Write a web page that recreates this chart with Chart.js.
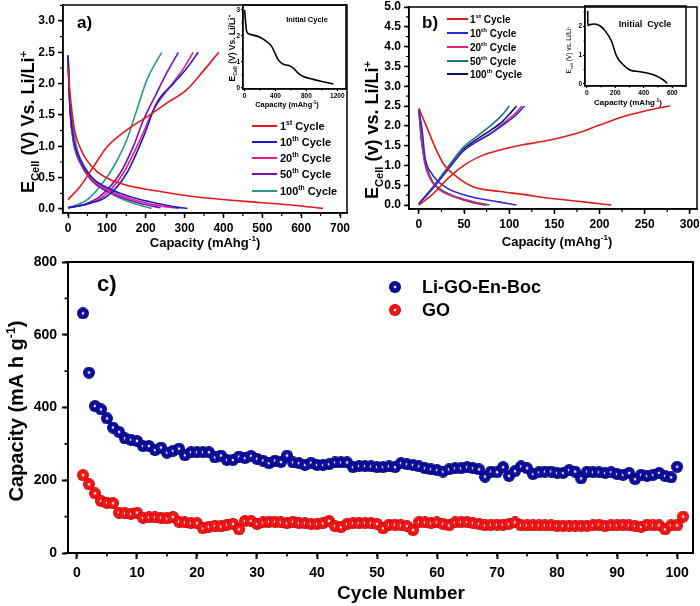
<!DOCTYPE html>
<html>
<head>
<meta charset="utf-8">
<script src="https://cdn.jsdelivr.net/npm/chart.js@4.4.1/dist/chart.umd.min.js"></script>
<style>
  body { margin: 0; background: #fff; }
  #wrap { position: relative; width: 700px; height: 606px; overflow: hidden; background: #fff; }
  canvas { position: absolute; }
</style>
</head>
<body>
<div id="wrap">
  <canvas id="chartA"></canvas>
  <canvas id="chartB"></canvas>
  <canvas id="chartC"></canvas>
  <canvas id="insetA"></canvas>
  <canvas id="insetB"></canvas>
</div>
<script>
// ---- legend names ----
const cycleNames = ["1", "10", "20", "50", "100"];
const cycleSuffix = ["st", "th", "th", "th", "th"];
const seriesNames = ["Li-GO-En-Boc", "GO"];

// ---- tick labels ----
const aCapTicks = [0, 100, 200, 300, 400, 500, 600, 700];
const aVoltTicks = [0, 0.5, 1.0, 1.5, 2.0, 2.5, 3.0];
const bCapTicks = [0, 50, 100, 150, 200, 250, 300];
const bVoltTicks = [0, 0.5, 1.0, 1.5, 2.0, 2.5, 3.0, 3.5, 4.0, 4.5, 5.0];
const cCycleTicks = [0, 10, 20, 30, 40, 50, 60, 70, 80, 90, 100];
const cCapTicks = [0, 200, 400, 600, 800];
const insetACapTicks = [0, 400, 800, 1200];
const insetAVoltTicks = [0, 1, 2, 3];
const insetBCapTicks = [0, 200, 400, 600];
const insetBVoltTicks = [0, 1, 2];

// ---- panel a) charge / discharge, [capacity mAh/g, E V] ----
const aDischarge1 = [[0, 2.25], [5, 1.85], [10, 1.55], [18, 1.22], [31, 0.98], [48, 0.78], [74, 0.6], [108, 0.47], [151, 0.38], [237, 0.28], [322, 0.2], [420, 0.14], [500, 0.1], [580, 0.06], [656, 0.01]];
const aCharge1 = [[0, 0.15], [31, 0.36], [65, 0.67], [100, 0.99], [151, 1.26], [203, 1.47], [254, 1.69], [305, 1.9], [348, 2.2], [388, 2.5]];
const aDischarge10 = [[0, 2.45], [3, 1.9], [6, 1.55], [14, 1.12], [30, 0.8], [57, 0.53], [91, 0.37], [134, 0.25], [185, 0.15], [237, 0.08], [280, 0.03], [307, 0.01]];
const aCharge10 = [[0, 0.02], [50, 0.08], [100, 0.2], [151, 0.57], [194, 1.15], [228, 1.69], [271, 2.0], [305, 2.24], [335, 2.5]];
const aDischarge20 = [[0, 2.45], [3, 1.9], [6, 1.5], [14, 1.08], [30, 0.77], [57, 0.5], [91, 0.34], [134, 0.22], [185, 0.12], [237, 0.05], [284, 0.01]];
const aCharge20 = [[0, 0.02], [50, 0.08], [91, 0.2], [142, 0.57], [185, 1.1], [220, 1.58], [262, 1.95], [297, 2.24], [322, 2.5]];
const aDischarge50 = [[0, 2.45], [3, 1.9], [6, 1.5], [14, 1.06], [30, 0.75], [57, 0.48], [91, 0.31], [134, 0.19], [185, 0.09], [238, 0.02]];
const aCharge50 = [[0, 0.02], [45, 0.08], [82, 0.2], [134, 0.57], [168, 1.0], [194, 1.42], [228, 1.85], [254, 2.17], [284, 2.5]];
const aDischarge100 = [[0, 2.45], [3, 1.85], [9.5, 1.47], [22, 0.99], [48, 0.62], [82, 0.38], [125, 0.2], [168, 0.09], [215, 0.01]];
const aCharge100 = [[0, 0.02], [48, 0.14], [82, 0.36], [117, 0.67], [151, 1.1], [177, 1.58], [203, 2.06], [241, 2.5]];
const aInitial = [[0, 3.0], [28, 2.17], [71, 2.06], [200, 1.95], [287, 1.78], [352, 1.59], [395, 1.33], [437, 1.08], [502, 0.91], [567, 0.87], [631, 0.76], [696, 0.56], [761, 0.44], [890, 0.33], [1019, 0.24], [1149, 0.15]];

// ---- panel b) ----
const bDischarge1 = [[0, 2.44], [8.5, 1.98], [16, 1.56], [27, 1.05], [42, 0.71], [60, 0.46], [90, 0.34], [115, 0.27], [145, 0.17], [182, 0.08], [213, 0.0]];
const bCharge1 = [[0, 0.0], [16, 0.29], [34, 0.71], [53, 1.05], [71, 1.26], [90, 1.39], [115, 1.52], [145, 1.64], [175, 1.81], [200, 2.02], [226, 2.23], [255, 2.4], [278, 2.5]];
const bDischarge10 = [[0, 2.42], [4, 1.8], [6.6, 1.22], [14, 0.8], [29, 0.46], [58, 0.21], [88, 0.08], [108, 0.0]];
const bCharge10 = [[0, 0.03], [16, 0.44], [34, 0.95], [49, 1.36], [64, 1.6], [79, 1.8], [93, 2.02], [107, 2.26], [117, 2.5]];
const bDischarge20 = [[0, 2.42], [3, 1.7], [6, 1.1], [12, 0.68], [22, 0.4], [40, 0.21], [58, 0.09], [75, 0.0]];
const bCharge20 = [[0, 0.03], [16, 0.45], [34, 0.96], [49, 1.37], [64, 1.6], [79, 1.8], [93, 2.05], [107, 2.32], [114, 2.5]];
const bDischarge50 = [[0, 2.42], [3, 1.6], [8, 1.0], [15, 0.6], [25, 0.38], [42, 0.2], [60, 0.08], [78, 0.0]];
const bCharge50 = [[0, 0.03], [16, 0.47], [34, 1.02], [49, 1.45], [64, 1.73], [79, 2.0], [92, 2.27], [100, 2.5]];
const bDischarge100 = [[0, 2.38], [3, 1.6], [8, 1.0], [14, 0.62], [24, 0.38], [40, 0.2], [57, 0.08], [73, 0.0]];
const bCharge100 = [[0, 0.03], [16, 0.46], [34, 0.98], [49, 1.4], [64, 1.66], [79, 1.88], [93, 2.12], [102, 2.34], [108, 2.5]];
const bInitial = [[7, 2.55], [8, 2.04], [21, 2.07], [56, 2.09], [92, 2.03], [127, 1.87], [174, 1.49], [210, 0.96], [256, 0.67], [303, 0.49], [374, 0.43], [468, 0.32], [538, 0.14], [565, 0.02]];

// ---- panel c) capacity (mA h/g) per cycle, starting at cycle 1 ----
const boCapacity = [659, 496, 404, 395, 370, 345, 333, 315, 311, 308, 294, 294, 283, 290, 276, 281, 287, 269, 277, 277,
  277, 277, 263, 268, 256, 256, 265, 261, 267, 259, 254, 247, 254, 250, 268, 249, 247, 242, 248, 242,
  242, 244, 249, 249, 249, 236, 239, 239, 238, 236, 236, 238, 236, 247, 244, 242, 238, 233, 230, 228,
  224, 230, 233, 233, 236, 233, 230, 210, 224, 222, 236, 212, 225, 238, 233, 217, 222, 224, 224, 220,
  220, 228, 224, 205, 224, 222, 222, 220, 222, 217, 215, 220, 203, 215, 212, 215, 220, 212, 208, 237];
const goCapacity = [214, 189, 164, 143, 138, 137, 111, 109, 108, 111, 97, 98, 98, 97, 95, 99, 86, 84, 82, 82,
  68, 72, 75, 73, 78, 80, 65, 88, 88, 80, 84, 86, 86, 84, 82, 86, 82, 82, 80, 80,
  82, 88, 74, 71, 80, 82, 82, 82, 82, 80, 68, 78, 78, 76, 74, 63, 85, 84, 82, 84,
  80, 76, 84, 85, 85, 82, 80, 76, 78, 78, 78, 80, 84, 76, 76, 76, 76, 76, 76, 75,
  75, 75, 75, 75, 75, 76, 78, 74, 76, 76, 78, 76, 74, 72, 78, 76, 76, 65, 76, 76, 100];

const aColors = ["#e8161c", "#1c1cc8", "#e81c8c", "#7a10b4", "#2a9a88"];
const bColors = ["#e01b1b", "#2a2ad6", "#e8207a", "#15806a", "#0c0c78"];

const FAM = '"Liberation Sans", Arial, Helvetica, sans-serif';
Chart.defaults.font.family = FAM;
Chart.defaults.color = "#000";

const T = t => ({ t: t });
const SUB = t => ({ t: t, sub: true });
const SUP = t => ({ t: t, sup: true });

// text with sub/superscripts, centred on (x, y) unless align left
function drawRich(ctx, parts, x, y, size, opt) {
  const weight = opt.weight || "bold";
  const fontOf = p => weight + " " + ((p.sub || p.sup) ? size * 0.62 : size) + "px " + FAM;
  ctx.save();
  ctx.translate(x, y);
  if (opt.rotate) ctx.rotate(-Math.PI / 2);
  ctx.textAlign = "left";
  ctx.textBaseline = "alphabetic";
  ctx.fillStyle = "#000";
  const widths = parts.map(p => { ctx.font = fontOf(p); return ctx.measureText(p.t).width; });
  const total = widths.reduce((s, w) => s + w, 0);
  let cx = opt.align === "left" ? 0 : -total / 2;
  const base = size * 0.36;
  parts.forEach((p, i) => {
    ctx.font = fontOf(p);
    let dy = 0;
    if (p.sub) dy = size * 0.26;
    if (p.sup) dy = -size * 0.42;
    ctx.fillText(p.t, cx, base + dy);
    cx += widths[i];
  });
  ctx.restore();
}

// frame, minor ticks, titles and hand-made legends
function framePlugin(cfg) {
  return {
    id: "frame",
    afterDraw(chart) {
      const ctx = chart.ctx, a = chart.chartArea;
      const xs = chart.scales.x, ys = chart.scales.y;
      const ox = cfg.box.x, oy = cfg.box.y;
      ctx.save();
      ctx.strokeStyle = "#000";
      ctx.lineWidth = cfg.tickWidth || 1.2;
      ctx.beginPath();
      for (let v = Math.ceil(xs.min / cfg.minorX) * cfg.minorX; v <= xs.max + 1e-9; v += cfg.minorX) {
        const px = xs.getPixelForValue(v);
        ctx.moveTo(px, a.bottom);
        ctx.lineTo(px, a.bottom + cfg.minorLen);
      }
      for (let v = Math.ceil(ys.min / cfg.minorY) * cfg.minorY; v <= ys.max + 1e-9; v += cfg.minorY) {
        const py = ys.getPixelForValue(v);
        ctx.moveTo(a.left, py);
        ctx.lineTo(a.left - cfg.minorLen, py);
      }
      ctx.stroke();
      ctx.lineWidth = cfg.frameWidth || 1.5;
      ctx.strokeRect(a.left, a.top, a.right - a.left, a.bottom - a.top);
      (cfg.lines || []).forEach(l => {
        ctx.strokeStyle = l.color;
        ctx.lineWidth = 2;
        ctx.beginPath();
        ctx.moveTo(l.x1 - ox, l.y - oy);
        ctx.lineTo(l.x2 - ox, l.y - oy);
        ctx.stroke();
      });
      (cfg.images || []).forEach(im => {
        ctx.drawImage(im.img, im.x - ox - im.img.width / 2, im.y - oy - im.img.height / 2);
      });
      (cfg.texts || []).forEach(t => drawRich(ctx, t.parts, t.x - ox, t.y - oy, t.size, t));
      ctx.restore();
    }
  };
}

function linAxis(min, max, tickValues, size, tickLen, pad, lw, fmt) {
  return {
    type: "linear", min: min, max: max,
    afterBuildTicks: s => { s.ticks = tickValues.map(v => ({ value: v })); },
    grid: { drawOnChartArea: false, drawTicks: true, tickLength: tickLen, tickWidth: lw, tickColor: "#000" },
    border: { display: true, color: "#000", width: lw },
    ticks: {
      autoSkip: false, maxRotation: 0, minRotation: 0,
      padding: pad, color: "#000", font: { size: size, weight: "bold" },
      callback: fmt || (v => v)
    }
  };
}

// place a chart so that its plot area lands on `area` (page pixels)
function makePanel(id, box, area, datasets, xAxis, yAxis, cfg) {
  const cv = document.getElementById(id);
  cv.width = box.w;
  cv.height = box.h;
  cv.style.left = box.x + "px";
  cv.style.top = box.y + "px";
  cv.style.width = box.w + "px";
  cv.style.height = box.h + "px";
  const yW = area.left - box.x;
  const xH = box.y + box.h - area.bottom;
  const zeroPad = s => { s.paddingLeft = 0; s.paddingRight = 0; s.paddingTop = 0; s.paddingBottom = 0; };
  xAxis.afterFit = s => { s.height = xH; zeroPad(s); };
  yAxis.afterFit = s => { s.width = yW; zeroPad(s); };
  cfg.box = box;
  return new Chart(cv, {
    type: "scatter",
    data: { datasets: datasets },
    options: {
      responsive: false,
      animation: false,
      events: [],
      layout: { padding: { left: 0, bottom: 0, top: area.top - box.y, right: box.x + box.w - area.right } },
      scales: { x: xAxis, y: yAxis },
      plugins: { legend: { display: false }, tooltip: { enabled: false } }
    },
    plugins: [framePlugin(cfg)]
  });
}

function curve(data, color, width) {
  return {
    data: data, showLine: true, borderColor: color, borderWidth: width || 1.6,
    pointRadius: 0, cubicInterpolationMode: "monotone", fill: false
  };
}

// shaded ball used as point marker
function ball(base, dark) {
  const size = 12, r = size / 2;
  const c = document.createElement("canvas");
  c.width = size; c.height = size;
  const g = c.getContext("2d");
  const grad = g.createRadialGradient(r, r, 0, r, r, r);
  grad.addColorStop(0, "#ffffff");
  grad.addColorStop(0.12, "#e4e4f0");
  grad.addColorStop(0.3, base);
  grad.addColorStop(0.8, base);
  grad.addColorStop(1, dark);
  g.fillStyle = grad;
  g.beginPath();
  g.arc(r, r, r, 0, Math.PI * 2);
  g.fill();
  return c;
}

const eTitle = (cell, v, vs) => [T("E"), SUB(cell), T(" (" + v + ") " + vs + " Li/Li"), SUP("+")];
const capTitle = [T("Capacity (mAhg"), SUP("-1"), T(")")];
const cycleLabel = i => [T(cycleNames[i]), SUP(cycleSuffix[i]), T(" Cycle")];
const fmt1 = v => v.toFixed(1);

// ---------- panel a ----------
const aSets = [[aDischarge1, aCharge1], [aDischarge10, aCharge10], [aDischarge20, aCharge20], [aDischarge50, aCharge50], [aDischarge100, aCharge100]];
const aDatasets = [];
aSets.forEach((pair, i) => { aDatasets.push(curve(pair[0], aColors[i])); aDatasets.push(curve(pair[1], aColors[i])); });
const aLegendY = [126, 142, 158, 174, 191];

makePanel("chartA", { x: 0, y: 0, w: 350, h: 252 }, { left: 63, top: 5, right: 347, bottom: 213 },
  aDatasets,
  linAxis(-13, 718, aCapTicks, 12, 5, 3, 1.5),
  linAxis(-0.064, 3.255, aVoltTicks, 12, 5, 3, 1.5, fmt1),
  {
    minorX: 50, minorY: 0.25, minorLen: 3, frameWidth: 1.5,
    lines: aLegendY.map((y, i) => ({ x1: 252, x2: 277, y: y, color: aColors[i] })),
    texts: [
      { parts: [T("a)")], x: 77, y: 22, size: 17, align: "left" },
      { parts: eTitle("Cell", "V", "Vs."), x: 28, y: 122, size: 18, rotate: true },
      { parts: capTitle, x: 205, y: 242, size: 13 }
    ].concat(aLegendY.map((y, i) => ({ parts: cycleLabel(i), x: 280, y: y, size: 11, align: "left" })))
  });

// ---------- panel b ----------
const bSets = [[bDischarge1, bCharge1], [bDischarge10, bCharge10], [bDischarge20, bCharge20], [bDischarge50, bCharge50], [bDischarge100, bCharge100]];
const bDatasets = [];
bSets.forEach((pair, i) => { bDatasets.push(curve(pair[0], bColors[i])); bDatasets.push(curve(pair[1], bColors[i])); });
const bLegendY = [19, 33, 47, 61, 74];

makePanel("chartB", { x: 350, y: 0, w: 350, h: 252 }, { left: 409, top: 7, right: 697, bottom: 209 },
  bDatasets,
  linAxis(-11, 308, bCapTicks, 12, 5, 3, 1.5),
  linAxis(-0.1, 5.0, bVoltTicks, 12, 5, 3, 1.5, fmt1),
  {
    minorX: 25, minorY: 0.25, minorLen: 3, frameWidth: 1.5,
    lines: bLegendY.map((y, i) => ({ x1: 447, x2: 468, y: y, color: bColors[i] })),
    texts: [
      { parts: [T("b)")], x: 422, y: 22, size: 17, align: "left" },
      { parts: eTitle("Cell", "v", "vs."), x: 372, y: 130, size: 18, rotate: true },
      { parts: capTitle, x: 557, y: 241, size: 13 }
    ].concat(bLegendY.map((y, i) => ({ parts: cycleLabel(i), x: 470, y: y, size: 10, align: "left" })))
  });

// ---------- panel c ----------
const blueBall = ball("#0c0ca0", "#05055a");
const redBall = ball("#f41414", "#b00000");
const cycleOf = i => i + 1;

makePanel("chartC", { x: 0, y: 252, w: 700, h: 354 }, { left: 68, top: 262, right: 697, bottom: 553 },
  [
    { data: boCapacity.map((v, i) => ({ x: cycleOf(i), y: v })), pointStyle: blueBall, pointRadius: 6, showLine: false },
    { data: goCapacity.map((v, i) => ({ x: cycleOf(i), y: v })), pointStyle: redBall, pointRadius: 6, showLine: false }
  ],
  linAxis(-1.49, 102.65, cCycleTicks, 14, 6, 6, 2),
  linAxis(0, 800, cCapTicks, 14, 6, 5, 2),
  {
    minorX: 5, minorY: 100, minorLen: 3.5, frameWidth: 2, tickWidth: 1.6,
    images: [{ img: blueBall, x: 395, y: 287 }, { img: redBall, x: 395, y: 310 }],
    texts: [
      { parts: [T("c)")], x: 97, y: 283, size: 22, align: "left" },
      { parts: [T("Capacity (mA h g"), SUP("-1"), T(")")], x: 16, y: 411, size: 20, rotate: true },
      { parts: [T("Cycle Number")], x: 401, y: 592, size: 19 },
      { parts: [T(seriesNames[0])], x: 422, y: 287, size: 18, align: "left" },
      { parts: [T(seriesNames[1])], x: 422, y: 310, size: 18, align: "left" }
    ]
  });

// ---------- insets ----------
makePanel("insetA", { x: 195, y: 0, w: 155, h: 112 }, { left: 243, top: 5, right: 346, bottom: 89 },
  [curve(aInitial, "#000", 1.6)],
  linAxis(-20, 1313, insetACapTicks, 6.5, 2, 1, 1.2),
  linAxis(-0.04, 3.19, insetAVoltTicks, 6.5, 2, 1, 1.2),
  {
    minorX: 200, minorY: 0.5, minorLen: 1.5, frameWidth: 1.5, tickWidth: 1,
    texts: [
      { parts: [T("Initial Cycle")], x: 307, y: 19, size: 7.5 },
      { parts: eTitle("Cell", "V", "Vs."), x: 232, y: 48, size: 8.5, rotate: true },
      { parts: capTitle, x: 287, y: 104, size: 7.5 }
    ]
  });

makePanel("insetB", { x: 545, y: 0, w: 155, h: 112 }, { left: 585, top: 6, right: 686, bottom: 86 },
  [curve(bInitial, "#000", 1.6)],
  linAxis(-12, 696, insetBCapTicks, 6.5, 2, 1, 1.2),
  linAxis(-0.07, 2.72, insetBVoltTicks, 6.5, 2, 1, 1.2),
  {
    minorX: 100, minorY: 0.5, minorLen: 1.5, frameWidth: 1.5, tickWidth: 1,
    texts: [
      { parts: [T("Initial  Cycle")], x: 645, y: 24, size: 9 },
      { parts: eTitle("cell", "V", "vs."), x: 569, y: 50, size: 6.5, rotate: true, weight: "normal" },
      { parts: capTitle, x: 628, y: 102, size: 8 }
    ]
  });
</script>
</body>
</html>
